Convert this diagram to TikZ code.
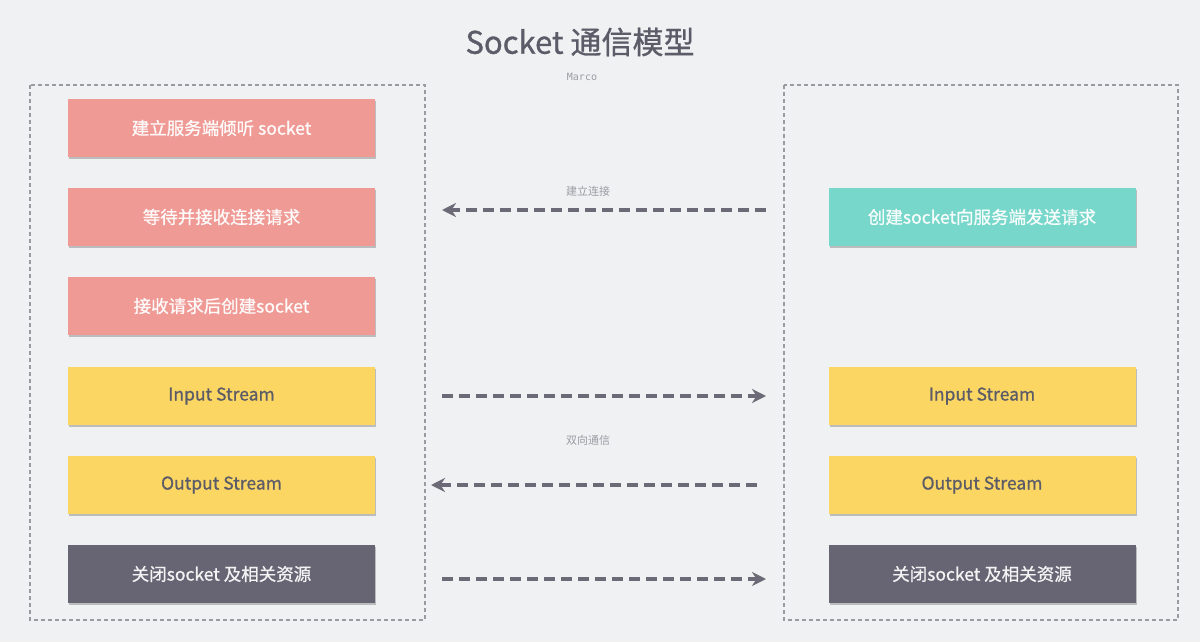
\documentclass[tikz,border=0pt]{standalone}
\usepackage{fontspec}
\setmainfont{Noto Sans CJK SC}
\newfontfamily\medf[FakeBold=0.9]{Noto Sans CJK SC}
\newfontfamily\monof{DejaVu Sans Mono}
\usetikzlibrary{shadows,arrows.meta}
\definecolor{bg}{HTML}{F0F1F3}
\definecolor{cred}{HTML}{F09A95}
\definecolor{cteal}{HTML}{76D7CA}
\definecolor{cyel}{HTML}{FBD662}
\definecolor{cdark}{HTML}{676473}
\definecolor{ctxt}{HTML}{5C5B68}
\definecolor{carrow}{HTML}{6B6A76}
\definecolor{cframe}{HTML}{9A9AA0}
\definecolor{clabel}{HTML}{9A9CA3}
\tikzset{
  box/.style={minimum width=307pt, minimum height=58pt, inner sep=0pt, font=\medf\fontsize{17.5}{20}\selectfont,
    drop shadow={shadow xshift=1pt, shadow yshift=-2pt, opacity=0.22, fill=black}},
  redbox/.style={box, fill=cred, text=white!95!cred},
  tealbox/.style={box, fill=cteal, text=white!95!cteal},
  yelbox/.style={box, fill=cyel, text=ctxt},
  darkbox/.style={box, fill=cdark, text=white!92!cdark},
  frame/.style={draw=cframe, dashed, line width=1.3pt, dash pattern=on 4pt off 3pt},
  conn/.style={draw=carrow, line width=3.5pt, dash pattern=on 11pt off 6pt, -{Stealth[length=14pt,width=14pt]}},
  lbl/.style={text=clabel, font=\fontsize{11}{13}\selectfont}
}
\begin{document}
\begin{tikzpicture}[x=1pt,y=-1pt]
\fill[bg] (0,0) rectangle (1200,642);
\useasboundingbox (0,0) rectangle (1200,642);
\node[text=ctxt, font=\medf\fontsize{31}{34}\selectfont] (title) at (580,42) {Socket 通信模型};
\node[text=clabel, font=\monof\fontsize{10}{12}\selectfont] (author) at (582,77) {Marco};
\draw[frame] (30,85) rectangle (425,620);
\draw[frame] (784,85) rectangle (1178,620);
% left column
\node[redbox] (l1) at (221.5,128) {建立服务端倾听 socket};
\node[redbox] (l2) at (221.5,217) {等待并接收连接请求};
\node[redbox] (l3) at (221.5,306) {接收请求后创建socket};
\node[yelbox] (l4) at (221.5,396) {Input Stream};
\node[yelbox] (l5) at (221.5,485) {Output Stream};
\node[darkbox] (l6) at (221.5,574) {关闭socket 及相关资源};
% right column
\node[tealbox] (r2) at (982,217) {创建socket向服务端发送请求};
\node[yelbox] (r4) at (982,396) {Input Stream};
\node[yelbox] (r5) at (982,485) {Output Stream};
\node[darkbox] (r6) at (982,574) {关闭socket 及相关资源};
% connector endpoints
\coordinate (a2s) at (766,210); \coordinate (a2e) at (442,210);
\coordinate (a4s) at (442,396); \coordinate (a4e) at (766,396);
\coordinate (a5s) at (757,485); \coordinate (a5e) at (431,485);
\coordinate (a6s) at (442,579); \coordinate (a6e) at (766,579);
\draw[conn] (a2s) -- (a2e);
\draw[conn] (a4s) -- (a4e);
\draw[conn] (a5s) -- (a5e);
\draw[conn] (a6s) -- (a6e);
\node[lbl] (lab1) at (588,191) {建立连接};
\node[lbl] (lab2) at (588,440) {双向通信};
\end{tikzpicture}
\end{document}
